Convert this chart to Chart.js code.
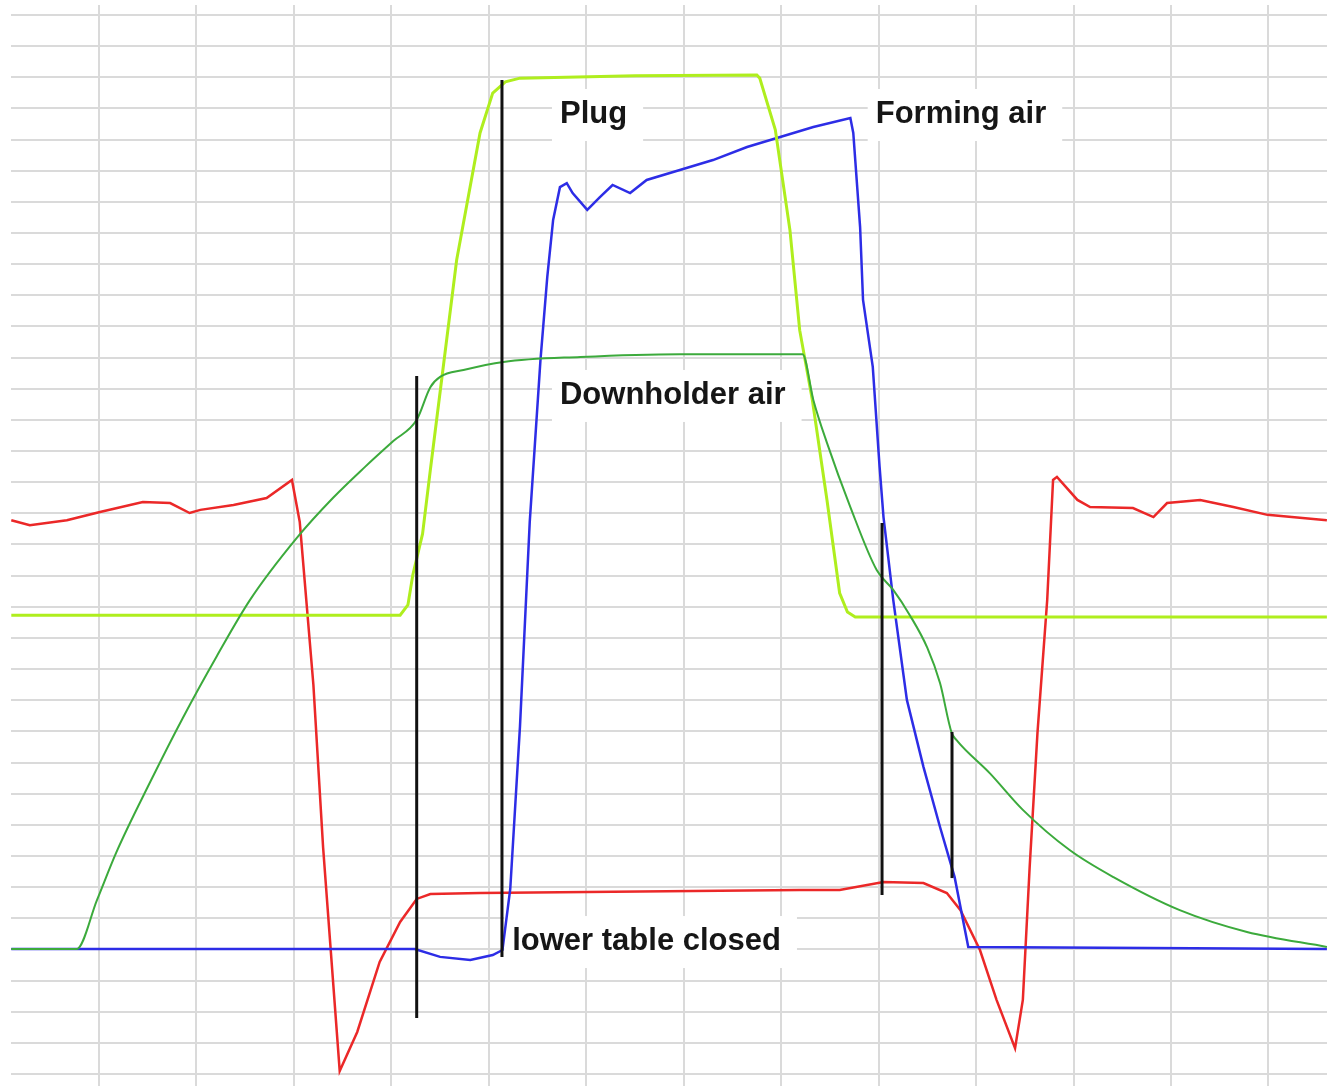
<!DOCTYPE html>
<html>
<head>
<meta charset="utf-8">
<script src="https://cdn.jsdelivr.net/npm/chart.js@4.4.1/dist/chart.umd.min.js"></script>
<style>
	body { margin: 0; background: #fff; }
	#wrap { width: 1327px; height: 1086px; }
</style>
</head>
<body>
<div id="wrap"><canvas id="traceChart"></canvas></div>
<script>
// grid positions (one unit = one grid cell)
const xTicks = [1, 2, 3, 4, 5, 6, 7, 8, 9, 10, 11, 12, 13];
const yTicks = [0, 1, 2, 3, 4, 5, 6, 7, 8, 9, 10, 11, 12, 13, 14, 15, 16, 17, 18, 19, 20,
	21, 22, 23, 24, 25, 26, 27, 28, 29, 30, 31, 32, 33, 34];

// Plug
const plugX = [0.1, 4.09, 4.17, 4.22, 4.32, 4.40, 4.67, 4.91, 5.04, 5.17, 5.32, 6.5, 7.75,
	7.78, 7.94, 8.09, 8.19, 8.32, 8.47, 8.60, 8.68, 8.76, 13.6];
const plugY = [14.73, 14.73, 15.06, 16.02, 17.34, 19.39, 26.13, 30.21, 31.49, 31.85, 31.97, 32.05, 32.07,
	31.97, 30.31, 27.09, 23.88, 21.64, 18.43, 15.44, 14.83, 14.67, 14.67];

// Forming air
const formingX = [0.1, 4.24, 4.50, 4.81, 5.04, 5.14, 5.22, 5.32, 5.42, 5.53, 5.60, 5.66, 5.73, 5.80,
	5.86, 6.01, 6.14, 6.27, 6.45, 6.62, 6.96, 7.30, 7.65, 7.99, 8.33, 8.71, 8.74, 8.81, 8.84,
	8.94, 9.01, 9.05, 9.15, 9.29, 9.46, 9.63, 9.78, 9.92, 13.6];
const formingY = [4.01, 4.01, 3.76, 3.66, 3.82, 3.98, 5.94, 11.17, 17.72, 22.92, 25.59, 27.42, 28.47, 28.60,
	28.28, 27.74, 28.15, 28.54, 28.28, 28.70, 29.02, 29.34, 29.76, 30.08, 30.40, 30.69, 30.21, 27.19, 24.85,
	22.70, 19.49, 17.88, 15.22, 12.01, 9.86, 7.93, 6.32, 4.08, 4.01];

// Downholder air
const downX = [0.1, 0.77, 0.98, 1.18, 1.52, 1.86, 2.21, 2.55, 3.03, 3.40, 3.73, 4.02, 4.26, 4.40, 4.50,
	4.74, 5.15, 5.94, 6.96, 8.22, 8.33, 8.47, 8.71, 8.98, 9.15, 9.32, 9.50, 9.63, 9.75, 9.80,
	10.14, 10.48, 10.96, 11.41, 12.09, 12.78, 13.6];
const downY = [4.01, 4.01, 5.59, 7.13, 9.34, 11.43, 13.42, 15.22, 17.21, 18.49, 19.49, 20.32, 21.00, 22.05, 22.38,
	22.60, 22.86, 23.02, 23.11, 23.11, 21.64, 20.26, 18.20, 16.18, 15.54, 14.73, 13.68, 12.55, 10.95, 10.72,
	9.66, 8.48, 7.19, 6.32, 5.26, 4.56, 4.08];

// lower table closed
const tableX = [0.1, 0.29, 0.67, 1.01, 1.45, 1.73, 1.93, 2.04, 2.38, 2.72, 2.98, 3.06, 3.20, 3.30,
	3.47, 3.65, 3.88, 4.09, 4.26, 4.40, 4.91, 8.19, 8.60, 9.05, 9.46, 9.70, 9.84, 10.04, 10.21,
	10.40, 10.48, 10.55, 10.63, 10.73, 10.79, 10.83, 11.04, 11.17, 11.61, 11.82, 11.96, 12.30, 12.64,
	12.99, 13.6];
const tableY = [17.78, 17.62, 17.78, 18.04, 18.36, 18.33, 18.01, 18.11, 18.27, 18.49, 19.07, 17.72, 12.49, 7.26,
	0.10, 1.35, 3.60, 4.88, 5.62, 5.78, 5.81, 5.91, 5.91, 6.16, 6.13, 5.81, 5.26, 3.98, 2.38,
	0.83, 2.38, 6.65, 10.95, 15.22, 19.07, 19.17, 18.43, 18.20, 18.17, 17.88, 18.33, 18.43, 18.20,
	17.95, 17.78];

// black event markers
const markerX = [4.26, 5.135, 9.035, 9.753];
const markerLow = [1.80, 3.76, 5.75, 6.29];
const markerHigh = [22.41, 31.91, 17.69, 10.98];

// annotation texts
const labelText = ["Plug", "Forming air", "Downholder air", "lower table closed"];
const labelX = [5.73, 8.97, 5.73, 5.24];
const labelY = [30.53, 30.53, 21.51, 3.98];

const toPoints = (xs, ys) => xs.map((x, i) => ({ x: x, y: ys[i] }));

const traceDataset = (xs, ys, color, width, smooth) => {
	return {
		data: toPoints(xs, ys),
		borderColor: color,
		borderWidth: width,
		pointRadius: 0,
		tension: 0,
		cubicInterpolationMode: smooth ? "monotone" : "default",
		order: 1,
	};
};

const markerDatasets = markerX.map((x, i) => ({
	data: [{ x: x, y: markerLow[i] }, { x: x, y: markerHigh[i] }],
	borderColor: "#111111",
	borderWidth: 3,
	pointRadius: 0,
	order: 0,
}));

const labelFont = "bold 31px 'Liberation Sans', Arial, sans-serif";

const labelPlugin = {
	id: "labels",
	beforeDatasetsDraw(chart) {
		const { ctx, scales } = chart;
		ctx.save();
		ctx.font = labelFont;
		ctx.fillStyle = "#ffffff";
		labelText.forEach((text, i) => {
			const px = scales.x.getPixelForValue(labelX[i]);
			const py = scales.y.getPixelForValue(labelY[i]);
			const w = ctx.measureText(text).width;
			ctx.fillRect(px - 8, py - 34, w + 24, 52);
		});
		ctx.restore();
	},
	afterDatasetsDraw(chart) {
		const { ctx, scales } = chart;
		ctx.save();
		ctx.font = labelFont;
		ctx.fillStyle = "#161616";
		ctx.textBaseline = "alphabetic";
		labelText.forEach((text, i) => {
			ctx.fillText(text, scales.x.getPixelForValue(labelX[i]), scales.y.getPixelForValue(labelY[i]));
		});
		ctx.restore();
	},
};

const gridOptions = {
	color: "#dadada",
	lineWidth: 2,
	drawTicks: false,
};

new Chart(document.getElementById("traceChart"), {
	type: "line",
	data: {
		datasets: [
			traceDataset(downX, downY, "rgb(60, 170, 60)", 2, true),
			traceDataset(plugX, plugY, "rgb(175, 238, 30)", 3, false),
			traceDataset(formingX, formingY, "rgb(45, 45, 230)", 2.5, false),
			traceDataset(tableX, tableY, "rgb(235, 40, 40)", 2.5, false),
			...markerDatasets,
		],
	},
	options: {
		responsive: true,
		maintainAspectRatio: false,
		animation: false,
		layout: { padding: { left: 11, top: 5, right: 0, bottom: 0 } },
		scales: {
			x: {
				type: "linear",
				min: 0.097,
				max: 13.601,
				afterBuildTicks: (axis) => (axis.ticks = xTicks.map((v) => ({ value: v }))),
				ticks: { display: false },
				border: { display: false },
				grid: gridOptions,
			},
			y: {
				type: "linear",
				min: -0.385,
				max: 34.318,
				afterBuildTicks: (axis) => (axis.ticks = yTicks.map((v) => ({ value: v }))),
				ticks: { display: false },
				border: { display: false },
				grid: gridOptions,
			},
		},
		plugins: {
			legend: { display: false },
			tooltip: { enabled: false },
		},
	},
	plugins: [labelPlugin],
});
</script>
</body>
</html>
